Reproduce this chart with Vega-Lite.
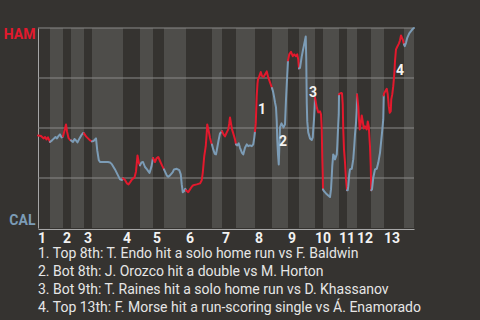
{
  "$schema": "https://vega.github.io/schema/vega-lite/v6.json",
  "width": 376,
  "height": 200,
  "autosize": {"type": "none"},
  "padding": {"left": 38, "top": 28, "right": 66, "bottom": 92},
  "background": "#353330",
  "config": {
    "view": {"stroke": null},
    "font": "Roboto",
    "axisX": {"labels": false, "ticks": false, "grid": false, "domainColor": "#a6a6a6", "offset": 1, "title": null},
    "axisY": {"labelOverlap": false, "labelFlush": true, "labelOffset": -1, "labelFont": "Roboto", "labelFontSize": 14, "labelFontWeight": "bold", "labelPadding": 3, "ticks": false, "grid": false, "domainColor": "#a6a6a6", "title": null}
  },
  "title": {
    "text": [
      "1. Top 8th: T. Endo hit a solo home run vs F. Baldwin",
      "2. Bot 8th: J. Orozco hit a double vs M. Horton",
      "3. Bot 9th: T. Raines hit a solo home run vs D. Khassanov",
      "4. Top 13th: F. Morse hit a run-scoring single vs Á. Enamorado"
    ],
    "orient": "bottom",
    "anchor": "start",
    "frame": "group",
    "offset": 1,
    "font": "Roboto",
    "fontSize": 14,
    "fontWeight": "normal",
    "color": "#e6e6e6",
    "lineHeight": 18,
    "baseline": "top"
  },
  "layer": [
    {
      "data": {"values": [
        {"x": 4.8, "end": 10}, {"x": 13.2, "end": 18.4}, {"x": 21.6, "end": 34},
        {"x": 40.8, "end": 46}, {"x": 50.4, "end": 59.2}, {"x": 69.6, "end": 73.6},
        {"x": 79.2, "end": 86.8}, {"x": 93.6, "end": 100}, {"x": 104.4, "end": 110.8},
        {"x": 114, "end": 120.4}, {"x": 123.6, "end": 127.6}, {"x": 133.2, "end": 138.4},
        {"x": 146.4, "end": 150.4}
      ]},
      "mark": {"type": "rect", "color": "#4e4d4a"},
      "encoding": {
        "x": {"field": "x", "type": "quantitative", "scale": {"domain": [0, 150.4], "nice": false, "zero": false}},
        "x2": {"field": "end"}
      }
    },
    {
      "data": {"values": [{"p": 25}, {"p": 50}, {"p": 75}, {"p": 100}]},
      "mark": {"type": "rule", "color": "#8a8a88", "strokeWidth": 1},
      "encoding": {
        "y": {"field": "p", "type": "quantitative", "scale": {"domain": [0, 100], "nice": false},
          "axis": {"values": [0, 25, 50, 75, 100],
            "labelExpr": "datum.value == 100 ? 'HAM' : datum.value == 0 ? 'CAL' : ''",
            "labelColor": {"condition": {"test": "datum.value == 100", "value": "#e3192d"}, "value": "#7c9cb6"}}}
      }
    },
    {
      "data": {"values": [
        {"x": 0, "p": 46.3, "s": "T1", "team": "HAM"}, {"x": 1.2, "p": 46.0, "s": "T1", "team": "HAM"}, {"x": 2.2, "p": 44.8, "s": "T1", "team": "HAM"}, {"x": 2.8, "p": 45.5, "s": "T1", "team": "HAM"}, {"x": 3.4, "p": 44.3, "s": "T1", "team": "HAM"}, {"x": 4.0, "p": 45.3, "s": "T1", "team": "HAM"}, {"x": 4.8, "p": 43.0, "s": "T1", "team": "HAM"},
        {"x": 4.8, "p": 43.0, "s": "B1", "team": "CAL"}, {"x": 5.6, "p": 43.8, "s": "B1", "team": "CAL"}, {"x": 6.4, "p": 44.8, "s": "B1", "team": "CAL"}, {"x": 7.0, "p": 45.5, "s": "B1", "team": "CAL"}, {"x": 7.6, "p": 44.8, "s": "B1", "team": "CAL"}, {"x": 8.2, "p": 46.0, "s": "B1", "team": "CAL"}, {"x": 8.8, "p": 46.8, "s": "B1", "team": "CAL"}, {"x": 9.4, "p": 45.3, "s": "B1", "team": "CAL"}, {"x": 10.0, "p": 45.8, "s": "B1", "team": "CAL"},
        {"x": 10.0, "p": 45.8, "s": "T2", "team": "HAM"}, {"x": 10.6, "p": 48.8, "s": "T2", "team": "HAM"}, {"x": 11.2, "p": 51.8, "s": "T2", "team": "HAM"}, {"x": 11.6, "p": 48.3, "s": "T2", "team": "HAM"}, {"x": 12.2, "p": 45.0, "s": "T2", "team": "HAM"}, {"x": 12.8, "p": 44.0, "s": "T2", "team": "HAM"}, {"x": 13.2, "p": 43.8, "s": "T2", "team": "HAM"},
        {"x": 13.2, "p": 43.8, "s": "B2", "team": "CAL"}, {"x": 14.0, "p": 43.0, "s": "B2", "team": "CAL"}, {"x": 14.6, "p": 44.5, "s": "B2", "team": "CAL"}, {"x": 15.2, "p": 43.8, "s": "B2", "team": "CAL"}, {"x": 15.8, "p": 42.8, "s": "B2", "team": "CAL"}, {"x": 16.6, "p": 44.8, "s": "B2", "team": "CAL"}, {"x": 17.4, "p": 46.5, "s": "B2", "team": "CAL"}, {"x": 18.0, "p": 47.5, "s": "B2", "team": "CAL"}, {"x": 18.4, "p": 47.3, "s": "B2", "team": "CAL"},
        {"x": 18.4, "p": 47.3, "s": "T3", "team": "HAM"}, {"x": 19.2, "p": 45.8, "s": "T3", "team": "HAM"}, {"x": 20.0, "p": 44.8, "s": "T3", "team": "HAM"}, {"x": 20.8, "p": 43.8, "s": "T3", "team": "HAM"}, {"x": 21.6, "p": 43.3, "s": "T3", "team": "HAM"},
        {"x": 21.6, "p": 43.3, "s": "B3", "team": "CAL"}, {"x": 22.2, "p": 43.5, "s": "B3", "team": "CAL"}, {"x": 23.2, "p": 44.8, "s": "B3", "team": "CAL"}, {"x": 23.7, "p": 38.8, "s": "B3", "team": "CAL"}, {"x": 24.3, "p": 34.0, "s": "B3", "team": "CAL"}, {"x": 24.8, "p": 33.0, "s": "B3", "team": "CAL"}, {"x": 26.4, "p": 33.0, "s": "B3", "team": "CAL"}, {"x": 28.0, "p": 33.0, "s": "B3", "team": "CAL"}, {"x": 28.8, "p": 32.8, "s": "B3", "team": "CAL"}, {"x": 29.6, "p": 31.8, "s": "B3", "team": "CAL"}, {"x": 30.8, "p": 29.3, "s": "B3", "team": "CAL"}, {"x": 31.8, "p": 26.8, "s": "B3", "team": "CAL"}, {"x": 32.8, "p": 24.3, "s": "B3", "team": "CAL"}, {"x": 33.6, "p": 24.0, "s": "B3", "team": "CAL"}, {"x": 34.0, "p": 24.8, "s": "B3", "team": "CAL"},
        {"x": 34.0, "p": 24.8, "s": "T4", "team": "HAM"}, {"x": 34.8, "p": 24.0, "s": "T4", "team": "HAM"}, {"x": 35.6, "p": 22.3, "s": "T4", "team": "HAM"}, {"x": 36.2, "p": 21.8, "s": "T4", "team": "HAM"}, {"x": 36.8, "p": 22.8, "s": "T4", "team": "HAM"}, {"x": 37.6, "p": 24.3, "s": "T4", "team": "HAM"}, {"x": 38.6, "p": 25.3, "s": "T4", "team": "HAM"}, {"x": 39.2, "p": 28.3, "s": "T4", "team": "HAM"}, {"x": 39.8, "p": 36.3, "s": "T4", "team": "HAM"}, {"x": 40.4, "p": 32.3, "s": "T4", "team": "HAM"}, {"x": 40.8, "p": 31.3, "s": "T4", "team": "HAM"},
        {"x": 40.8, "p": 31.3, "s": "B4", "team": "CAL"}, {"x": 41.4, "p": 32.8, "s": "B4", "team": "CAL"}, {"x": 42.0, "p": 33.0, "s": "B4", "team": "CAL"}, {"x": 42.8, "p": 30.5, "s": "B4", "team": "CAL"}, {"x": 43.6, "p": 29.3, "s": "B4", "team": "CAL"}, {"x": 44.6, "p": 27.5, "s": "B4", "team": "CAL"}, {"x": 45.4, "p": 30.8, "s": "B4", "team": "CAL"}, {"x": 46.0, "p": 35.0, "s": "B4", "team": "CAL"},
        {"x": 46.0, "p": 35.0, "s": "T5", "team": "HAM"}, {"x": 46.8, "p": 33.0, "s": "T5", "team": "HAM"}, {"x": 47.4, "p": 34.8, "s": "T5", "team": "HAM"}, {"x": 48.1, "p": 35.5, "s": "T5", "team": "HAM"}, {"x": 48.8, "p": 33.5, "s": "T5", "team": "HAM"}, {"x": 49.6, "p": 31.3, "s": "T5", "team": "HAM"}, {"x": 50.4, "p": 29.3, "s": "T5", "team": "HAM"},
        {"x": 50.4, "p": 29.3, "s": "B5", "team": "CAL"}, {"x": 51.5, "p": 26.3, "s": "B5", "team": "CAL"}, {"x": 52.1, "p": 25.6, "s": "B5", "team": "CAL"}, {"x": 52.8, "p": 26.3, "s": "B5", "team": "CAL"}, {"x": 53.9, "p": 27.9, "s": "B5", "team": "CAL"}, {"x": 54.4, "p": 29.3, "s": "B5", "team": "CAL"}, {"x": 55.5, "p": 29.6, "s": "B5", "team": "CAL"}, {"x": 56.5, "p": 28.9, "s": "B5", "team": "CAL"}, {"x": 57.1, "p": 26.8, "s": "B5", "team": "CAL"}, {"x": 57.5, "p": 21.8, "s": "B5", "team": "CAL"}, {"x": 57.9, "p": 17.9, "s": "B5", "team": "CAL"}, {"x": 58.4, "p": 18.4, "s": "B5", "team": "CAL"}, {"x": 58.9, "p": 19.6, "s": "B5", "team": "CAL"}, {"x": 59.2, "p": 18.9, "s": "B5", "team": "CAL"},
        {"x": 59.2, "p": 18.9, "s": "T6", "team": "HAM"}, {"x": 60.1, "p": 17.9, "s": "T6", "team": "HAM"}, {"x": 60.8, "p": 19.3, "s": "T6", "team": "HAM"}, {"x": 61.5, "p": 20.6, "s": "T6", "team": "HAM"}, {"x": 62.1, "p": 21.4, "s": "T6", "team": "HAM"}, {"x": 63.5, "p": 21.8, "s": "T6", "team": "HAM"}, {"x": 64.8, "p": 22.3, "s": "T6", "team": "HAM"}, {"x": 65.5, "p": 23.9, "s": "T6", "team": "HAM"}, {"x": 65.9, "p": 27.6, "s": "T6", "team": "HAM"}, {"x": 66.5, "p": 35.9, "s": "T6", "team": "HAM"}, {"x": 67.1, "p": 40.9, "s": "T6", "team": "HAM"}, {"x": 67.5, "p": 47.6, "s": "T6", "team": "HAM"}, {"x": 67.7, "p": 51.8, "s": "T6", "team": "HAM"}, {"x": 68.3, "p": 48.4, "s": "T6", "team": "HAM"}, {"x": 68.8, "p": 45.1, "s": "T6", "team": "HAM"}, {"x": 69.3, "p": 42.6, "s": "T6", "team": "HAM"}, {"x": 69.6, "p": 41.8, "s": "T6", "team": "HAM"},
        {"x": 69.6, "p": 41.8, "s": "B6", "team": "CAL"}, {"x": 70.1, "p": 39.3, "s": "B6", "team": "CAL"}, {"x": 70.7, "p": 37.1, "s": "B6", "team": "CAL"}, {"x": 71.2, "p": 36.8, "s": "B6", "team": "CAL"}, {"x": 71.7, "p": 40.1, "s": "B6", "team": "CAL"}, {"x": 72.3, "p": 44.3, "s": "B6", "team": "CAL"}, {"x": 72.8, "p": 47.3, "s": "B6", "team": "CAL"}, {"x": 73.3, "p": 47.9, "s": "B6", "team": "CAL"}, {"x": 73.6, "p": 48.4, "s": "B6", "team": "CAL"},
        {"x": 73.6, "p": 48.4, "s": "T7", "team": "HAM"}, {"x": 74.2, "p": 46.8, "s": "T7", "team": "HAM"}, {"x": 74.8, "p": 45.8, "s": "T7", "team": "HAM"}, {"x": 75.5, "p": 47.8, "s": "T7", "team": "HAM"}, {"x": 76.1, "p": 49.3, "s": "T7", "team": "HAM"}, {"x": 76.5, "p": 52.3, "s": "T7", "team": "HAM"}, {"x": 76.8, "p": 55.3, "s": "T7", "team": "HAM"}, {"x": 77.2, "p": 52.3, "s": "T7", "team": "HAM"}, {"x": 77.6, "p": 49.3, "s": "T7", "team": "HAM"}, {"x": 78.1, "p": 47.3, "s": "T7", "team": "HAM"}, {"x": 78.8, "p": 44.3, "s": "T7", "team": "HAM"}, {"x": 79.2, "p": 41.8, "s": "T7", "team": "HAM"},
        {"x": 79.2, "p": 41.8, "s": "B7", "team": "CAL"}, {"x": 79.7, "p": 41.3, "s": "B7", "team": "CAL"}, {"x": 80.3, "p": 42.3, "s": "B7", "team": "CAL"}, {"x": 80.8, "p": 40.1, "s": "B7", "team": "CAL"}, {"x": 81.6, "p": 37.6, "s": "B7", "team": "CAL"}, {"x": 82.1, "p": 36.8, "s": "B7", "team": "CAL"}, {"x": 82.8, "p": 40.1, "s": "B7", "team": "CAL"}, {"x": 83.5, "p": 41.8, "s": "B7", "team": "CAL"}, {"x": 84.1, "p": 40.9, "s": "B7", "team": "CAL"}, {"x": 84.8, "p": 41.3, "s": "B7", "team": "CAL"}, {"x": 85.5, "p": 40.9, "s": "B7", "team": "CAL"}, {"x": 86.1, "p": 41.8, "s": "B7", "team": "CAL"}, {"x": 86.5, "p": 45.1, "s": "B7", "team": "CAL"}, {"x": 86.8, "p": 48.4, "s": "B7", "team": "CAL"},
        {"x": 86.8, "p": 48.4, "s": "T8", "team": "HAM"}, {"x": 87.1, "p": 52.3, "s": "T8", "team": "HAM"}, {"x": 87.3, "p": 59.3, "s": "T8", "team": "HAM"}, {"x": 87.5, "p": 66.3, "s": "T8", "team": "HAM"}, {"x": 87.8, "p": 72.3, "s": "T8", "team": "HAM"}, {"x": 88.0, "p": 74.3, "s": "T8", "team": "HAM"}, {"x": 88.5, "p": 75.8, "s": "T8", "team": "HAM"}, {"x": 89.1, "p": 78.0, "s": "T8", "team": "HAM"}, {"x": 89.6, "p": 76.0, "s": "T8", "team": "HAM"}, {"x": 90.2, "p": 75.5, "s": "T8", "team": "HAM"}, {"x": 90.8, "p": 76.8, "s": "T8", "team": "HAM"}, {"x": 91.5, "p": 78.3, "s": "T8", "team": "HAM"}, {"x": 92.1, "p": 75.3, "s": "T8", "team": "HAM"}, {"x": 92.8, "p": 72.8, "s": "T8", "team": "HAM"}, {"x": 93.6, "p": 70.0, "s": "T8", "team": "HAM"},
        {"x": 93.6, "p": 70.0, "s": "B8", "team": "CAL"}, {"x": 94.0, "p": 68.3, "s": "B8", "team": "CAL"}, {"x": 94.4, "p": 65.8, "s": "B8", "team": "CAL"}, {"x": 94.8, "p": 62.8, "s": "B8", "team": "CAL"}, {"x": 95.2, "p": 60.3, "s": "B8", "team": "CAL"}, {"x": 95.5, "p": 53.3, "s": "B8", "team": "CAL"}, {"x": 95.7, "p": 44.3, "s": "B8", "team": "CAL"}, {"x": 96.0, "p": 36.8, "s": "B8", "team": "CAL"}, {"x": 96.3, "p": 31.8, "s": "B8", "team": "CAL"}, {"x": 96.5, "p": 39.3, "s": "B8", "team": "CAL"}, {"x": 96.8, "p": 50.3, "s": "B8", "team": "CAL"}, {"x": 97.4, "p": 52.3, "s": "B8", "team": "CAL"}, {"x": 98.2, "p": 50.3, "s": "B8", "team": "CAL"}, {"x": 98.8, "p": 51.8, "s": "B8", "team": "CAL"}, {"x": 99.2, "p": 64.3, "s": "B8", "team": "CAL"}, {"x": 99.6, "p": 74.3, "s": "B8", "team": "CAL"}, {"x": 100.0, "p": 83.8, "s": "B8", "team": "CAL"},
        {"x": 100.0, "p": 83.8, "s": "T9", "team": "HAM"}, {"x": 100.5, "p": 86.8, "s": "T9", "team": "HAM"}, {"x": 101.2, "p": 88.1, "s": "T9", "team": "HAM"}, {"x": 101.9, "p": 85.9, "s": "T9", "team": "HAM"}, {"x": 102.5, "p": 86.8, "s": "T9", "team": "HAM"}, {"x": 103.2, "p": 85.9, "s": "T9", "team": "HAM"}, {"x": 103.7, "p": 86.8, "s": "T9", "team": "HAM"}, {"x": 104.1, "p": 84.3, "s": "T9", "team": "HAM"}, {"x": 104.4, "p": 79.8, "s": "T9", "team": "HAM"},
        {"x": 104.4, "p": 79.8, "s": "B9", "team": "CAL"}, {"x": 104.8, "p": 80.1, "s": "B9", "team": "CAL"}, {"x": 105.5, "p": 85.8, "s": "B9", "team": "CAL"}, {"x": 105.9, "p": 88.4, "s": "B9", "team": "CAL"}, {"x": 106.3, "p": 90.8, "s": "B9", "team": "CAL"}, {"x": 106.7, "p": 93.3, "s": "B9", "team": "CAL"}, {"x": 107.1, "p": 95.8, "s": "B9", "team": "CAL"}, {"x": 107.3, "p": 84.3, "s": "B9", "team": "CAL"}, {"x": 107.5, "p": 62.8, "s": "B9", "team": "CAL"}, {"x": 107.7, "p": 53.3, "s": "B9", "team": "CAL"}, {"x": 108.1, "p": 47.8, "s": "B9", "team": "CAL"}, {"x": 108.8, "p": 44.8, "s": "B9", "team": "CAL"}, {"x": 109.5, "p": 44.0, "s": "B9", "team": "CAL"}, {"x": 109.9, "p": 45.3, "s": "B9", "team": "CAL"}, {"x": 110.1, "p": 49.3, "s": "B9", "team": "CAL"}, {"x": 110.4, "p": 54.3, "s": "B9", "team": "CAL"}, {"x": 110.7, "p": 61.8, "s": "B9", "team": "CAL"}, {"x": 110.8, "p": 65.3, "s": "B9", "team": "CAL"},
        {"x": 110.8, "p": 65.3, "s": "T10", "team": "HAM"}, {"x": 111.5, "p": 60.3, "s": "T10", "team": "HAM"}, {"x": 112.1, "p": 57.8, "s": "T10", "team": "HAM"}, {"x": 112.8, "p": 58.3, "s": "T10", "team": "HAM"}, {"x": 113.2, "p": 56.8, "s": "T10", "team": "HAM"}, {"x": 113.5, "p": 49.3, "s": "T10", "team": "HAM"}, {"x": 113.7, "p": 35.8, "s": "T10", "team": "HAM"}, {"x": 113.9, "p": 26.8, "s": "T10", "team": "HAM"}, {"x": 114.0, "p": 19.3, "s": "T10", "team": "HAM"},
        {"x": 114.0, "p": 19.3, "s": "B10", "team": "CAL"}, {"x": 114.4, "p": 18.4, "s": "B10", "team": "CAL"}, {"x": 115.2, "p": 17.3, "s": "B10", "team": "CAL"}, {"x": 116.1, "p": 16.3, "s": "B10", "team": "CAL"}, {"x": 116.8, "p": 15.5, "s": "B10", "team": "CAL"}, {"x": 117.2, "p": 19.3, "s": "B10", "team": "CAL"}, {"x": 117.5, "p": 25.9, "s": "B10", "team": "CAL"}, {"x": 117.7, "p": 30.9, "s": "B10", "team": "CAL"}, {"x": 118.1, "p": 36.8, "s": "B10", "team": "CAL"}, {"x": 118.5, "p": 35.9, "s": "B10", "team": "CAL"}, {"x": 118.8, "p": 34.3, "s": "B10", "team": "CAL"}, {"x": 119.5, "p": 36.8, "s": "B10", "team": "CAL"}, {"x": 119.7, "p": 40.9, "s": "B10", "team": "CAL"}, {"x": 120.0, "p": 49.3, "s": "B10", "team": "CAL"}, {"x": 120.3, "p": 56.8, "s": "B10", "team": "CAL"}, {"x": 120.4, "p": 66.8, "s": "B10", "team": "CAL"},
        {"x": 120.4, "p": 66.8, "s": "T11", "team": "HAM"}, {"x": 120.8, "p": 67.3, "s": "T11", "team": "HAM"}, {"x": 121.3, "p": 67.5, "s": "T11", "team": "HAM"}, {"x": 121.6, "p": 67.3, "s": "T11", "team": "HAM"}, {"x": 121.9, "p": 61.8, "s": "T11", "team": "HAM"}, {"x": 122.1, "p": 49.3, "s": "T11", "team": "HAM"}, {"x": 122.4, "p": 39.3, "s": "T11", "team": "HAM"}, {"x": 122.8, "p": 32.8, "s": "T11", "team": "HAM"}, {"x": 123.2, "p": 24.3, "s": "T11", "team": "HAM"}, {"x": 123.6, "p": 18.9, "s": "T11", "team": "HAM"},
        {"x": 123.6, "p": 18.9, "s": "B11", "team": "CAL"}, {"x": 123.9, "p": 18.9, "s": "B11", "team": "CAL"}, {"x": 124.1, "p": 20.9, "s": "B11", "team": "CAL"}, {"x": 124.5, "p": 26.8, "s": "B11", "team": "CAL"}, {"x": 124.8, "p": 29.3, "s": "B11", "team": "CAL"}, {"x": 125.5, "p": 29.6, "s": "B11", "team": "CAL"}, {"x": 126.1, "p": 34.3, "s": "B11", "team": "CAL"}, {"x": 126.5, "p": 40.9, "s": "B11", "team": "CAL"}, {"x": 126.8, "p": 46.8, "s": "B11", "team": "CAL"}, {"x": 127.2, "p": 52.6, "s": "B11", "team": "CAL"}, {"x": 127.5, "p": 59.3, "s": "B11", "team": "CAL"}, {"x": 127.6, "p": 66.8, "s": "B11", "team": "CAL"},
        {"x": 127.6, "p": 66.8, "s": "T12", "team": "HAM"}, {"x": 128.1, "p": 60.8, "s": "T12", "team": "HAM"}, {"x": 128.4, "p": 54.3, "s": "T12", "team": "HAM"}, {"x": 128.7, "p": 49.3, "s": "T12", "team": "HAM"}, {"x": 129.1, "p": 52.3, "s": "T12", "team": "HAM"}, {"x": 129.5, "p": 56.3, "s": "T12", "team": "HAM"}, {"x": 129.9, "p": 53.3, "s": "T12", "team": "HAM"}, {"x": 130.3, "p": 49.8, "s": "T12", "team": "HAM"}, {"x": 130.8, "p": 50.8, "s": "T12", "team": "HAM"}, {"x": 131.5, "p": 49.3, "s": "T12", "team": "HAM"}, {"x": 131.9, "p": 53.3, "s": "T12", "team": "HAM"}, {"x": 132.3, "p": 50.8, "s": "T12", "team": "HAM"}, {"x": 132.5, "p": 46.8, "s": "T12", "team": "HAM"}, {"x": 132.8, "p": 40.8, "s": "T12", "team": "HAM"}, {"x": 133.1, "p": 30.8, "s": "T12", "team": "HAM"}, {"x": 133.3, "p": 18.9, "s": "T12", "team": "HAM"},
        {"x": 133.3, "p": 18.9, "s": "B12", "team": "CAL"}, {"x": 133.6, "p": 19.3, "s": "B12", "team": "CAL"}, {"x": 134.1, "p": 25.1, "s": "B12", "team": "CAL"}, {"x": 134.8, "p": 29.3, "s": "B12", "team": "CAL"}, {"x": 135.5, "p": 29.6, "s": "B12", "team": "CAL"}, {"x": 136.1, "p": 32.6, "s": "B12", "team": "CAL"}, {"x": 136.8, "p": 37.6, "s": "B12", "team": "CAL"}, {"x": 137.2, "p": 42.6, "s": "B12", "team": "CAL"}, {"x": 137.6, "p": 47.6, "s": "B12", "team": "CAL"}, {"x": 138.1, "p": 54.3, "s": "B12", "team": "CAL"}, {"x": 138.3, "p": 66.3, "s": "B12", "team": "CAL"},
        {"x": 138.3, "p": 66.3, "s": "T13", "team": "HAM"}, {"x": 138.4, "p": 67.3, "s": "T13", "team": "HAM"}, {"x": 138.9, "p": 68.4, "s": "T13", "team": "HAM"}, {"x": 139.5, "p": 69.6, "s": "T13", "team": "HAM"}, {"x": 139.9, "p": 66.8, "s": "T13", "team": "HAM"}, {"x": 140.3, "p": 60.9, "s": "T13", "team": "HAM"}, {"x": 140.7, "p": 57.6, "s": "T13", "team": "HAM"}, {"x": 141.1, "p": 58.4, "s": "T13", "team": "HAM"}, {"x": 141.3, "p": 64.3, "s": "T13", "team": "HAM"}, {"x": 141.7, "p": 66.8, "s": "T13", "team": "HAM"}, {"x": 142.1, "p": 70.9, "s": "T13", "team": "HAM"}, {"x": 142.5, "p": 76.8, "s": "T13", "team": "HAM"}, {"x": 142.8, "p": 83.4, "s": "T13", "team": "HAM"}, {"x": 143.2, "p": 89.3, "s": "T13", "team": "HAM"}, {"x": 143.7, "p": 90.6, "s": "T13", "team": "HAM"}, {"x": 144.4, "p": 92.3, "s": "T13", "team": "HAM"}, {"x": 144.8, "p": 93.9, "s": "T13", "team": "HAM"}, {"x": 145.2, "p": 96.3, "s": "T13", "team": "HAM"}, {"x": 145.6, "p": 95.1, "s": "T13", "team": "HAM"}, {"x": 146.0, "p": 93.9, "s": "T13", "team": "HAM"}, {"x": 146.4, "p": 91.8, "s": "T13", "team": "HAM"},
        {"x": 146.4, "p": 91.8, "s": "B13", "team": "CAL"}, {"x": 146.7, "p": 90.9, "s": "B13", "team": "CAL"}, {"x": 147.2, "p": 92.6, "s": "B13", "team": "CAL"}, {"x": 147.7, "p": 95.1, "s": "B13", "team": "CAL"}, {"x": 148.5, "p": 97.3, "s": "B13", "team": "CAL"}, {"x": 149.2, "p": 98.4, "s": "B13", "team": "CAL"}, {"x": 149.9, "p": 99.6, "s": "B13", "team": "CAL"}, {"x": 150.4, "p": 100, "s": "B13", "team": "CAL"}
      ]},
      "mark": {"type": "line", "strokeWidth": 2, "strokeJoin": "round", "strokeCap": "round"},
      "encoding": {
        "x": {"field": "x", "type": "quantitative"},
        "y": {"field": "p", "type": "quantitative"},
        "color": {"field": "team", "type": "nominal", "scale": {"domain": ["HAM", "CAL"], "range": ["#e3192d", "#7c9cb6"]}, "legend": null},
        "detail": {"field": "s"}
      }
    },
    {
      "data": {"values": [
        {"x": 89.6, "p": 59.0, "label": "1"},
        {"x": 98.0, "p": 42.8, "label": "2"},
        {"x": 110.0, "p": 67.7, "label": "3"},
        {"x": 144.8, "p": 78.3, "label": "4"}
      ]},
      "mark": {"type": "text", "font": "Roboto", "fontSize": 14, "fontWeight": "bold", "color": "#f2f2f2", "align": "center", "baseline": "middle"},
      "encoding": {
        "x": {"field": "x", "type": "quantitative"},
        "y": {"field": "p", "type": "quantitative"},
        "text": {"field": "label"}
      }
    },
    {
      "data": {"values": [
        {"x": 0, "p": 0, "inning": "1"}, {"x": 10, "p": 0, "inning": "2"}, {"x": 18.4, "p": 0, "inning": "3"},
        {"x": 34, "p": 0, "inning": "4"}, {"x": 46, "p": 0, "inning": "5"}, {"x": 59.2, "p": 0, "inning": "6"},
        {"x": 73.6, "p": 0, "inning": "7"}, {"x": 86.8, "p": 0, "inning": "8"}, {"x": 100, "p": 0, "inning": "9"},
        {"x": 110.8, "p": 0, "inning": "10"}, {"x": 120.4, "p": 0, "inning": "11"}, {"x": 127.6, "p": 0, "inning": "12"},
        {"x": 138.4, "p": 0, "inning": "13"}
      ]},
      "mark": {"type": "text", "font": "Roboto", "fontSize": 14, "fontWeight": "bold", "color": "#f2f2f2", "align": "left", "baseline": "top", "dy": 4},
      "encoding": {
        "x": {"field": "x", "type": "quantitative"},
        "y": {"field": "p", "type": "quantitative"},
        "text": {"field": "inning"}
      }
    }
  ]
}
